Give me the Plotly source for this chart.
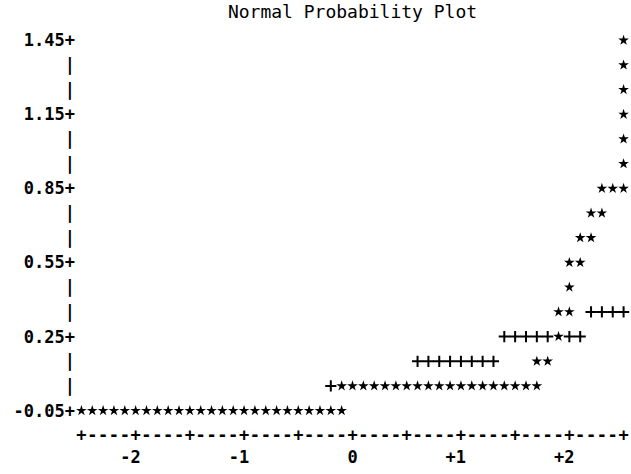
import plotly.graph_objects as go

# ---- data (normal score x, value y) ----
star_x = [-2.5, -2.4, -2.3, -2.2, -2.1, -2.0, -1.9, -1.8, -1.7, -1.6, -1.5, -1.4, -1.3,
          -1.2, -1.1, -1.0, -0.9, -0.8, -0.7, -0.6, -0.5, -0.4, -0.3, -0.2, -0.1,
          -0.1, 0.0, 0.1, 0.2, 0.3, 0.4, 0.5, 0.6, 0.7, 0.8, 0.9, 1.0, 1.1, 1.2, 1.3,
          1.4, 1.5, 1.6, 1.7,
          1.7, 1.8,
          1.9,
          1.9, 2.0,
          2.0,
          2.0, 2.1,
          2.1, 2.2,
          2.2, 2.3,
          2.3, 2.4, 2.5,
          2.5, 2.5, 2.5, 2.5, 2.5, 2.5]
star_y = [-0.05] * 25 + [0.05] * 19 + [0.15, 0.15, 0.25, 0.35, 0.35, 0.45, 0.55, 0.55,
          0.65, 0.65, 0.75, 0.75, 0.85, 0.85, 0.85, 0.95, 1.05, 1.15, 1.25, 1.35, 1.45]

ref_x = [-0.2,
         0.6, 0.7, 0.8, 0.9, 1.0, 1.1, 1.2, 1.3,
         1.4, 1.5, 1.6, 1.7, 1.8, 2.0, 2.1,
         2.2, 2.3, 2.4, 2.5]
ref_y = [0.05,
         0.15, 0.15, 0.15, 0.15, 0.15, 0.15, 0.15, 0.15,
         0.25, 0.25, 0.25, 0.25, 0.25, 0.25, 0.25,
         0.35, 0.35, 0.35, 0.35]

y_rows = [1.45, 1.35, 1.25, 1.15, 1.05, 0.95, 0.85, 0.75, 0.65, 0.55,
          0.45, 0.35, 0.25, 0.15, 0.05, -0.05]
y_labels = ["1.45", "", "", "1.15", "", "", "0.85", "", "", "0.55",
            "", "", "0.25", "", "", "-0.05"]

x_tick_vals = [-2, -1, 0, 1, 2]
x_tick_labels = ["-2", "-1", "0", "+1", "+2"]

title_text = "Normal Probability Plot"

# ---- ASCII-style axis decorations built from the tick definitions ----
ytext = [(lab + "+") if lab else "|" for lab in y_labels]

xcols = [round(-2.5 + 0.1 * i, 1) for i in range(51)]
xtext = []
for v in xcols:
    ch = "+" if abs(v * 2 - round(v * 2)) < 1e-9 else "-"
    lab = None
    for tv, tl in zip(x_tick_vals, x_tick_labels):
        if abs(v - tv) < 1e-9:
            lab = tl
    if lab is not None:
        if len(lab) > 1:
            lab = lab + "\u2007"
        xtext.append(ch + "<br>" + lab)
    else:
        xtext.append(ch)

FONT = "DejaVu Sans Mono"

fig = go.Figure()
fig.add_trace(go.Scatter(
    x=ref_x, y=ref_y, mode="markers", cliponaxis=False,
    marker=dict(symbol="cross-thin", size=8, color="black",
                line=dict(color="black", width=2)),
    hoverinfo="skip", showlegend=False))
fig.add_trace(go.Scatter(
    x=star_x, y=star_y, mode="markers", cliponaxis=False,
    marker=dict(symbol="star", size=8, color="black", line=dict(width=0)),
    hoverinfo="skip", showlegend=False))

fig.update_layout(
    width=631, height=474,
    margin=dict(l=76, r=2, t=28, b=51),
    paper_bgcolor="white", plot_bgcolor="white",
    title=dict(text=title_text, x=0.5, xref="paper", xanchor="center",
               y=1 - 12 / 474, yref="container", yanchor="middle",
               font=dict(family=FONT, size=18, color="black")),
    xaxis=dict(range=[-2.55, 2.55], showgrid=False, zeroline=False, showline=False,
               ticks="", tickmode="array", tickvals=xcols, ticktext=xtext,
               tickangle=0, ticklabeloverflow="allow",
               tickfont=dict(family=FONT, size=17, color="black", weight="bold")),
    yaxis=dict(range=[-0.1, 1.5], showgrid=False, zeroline=False, showline=False,
               ticks="", tickmode="array", tickvals=y_rows, ticktext=ytext,
               tickfont=dict(family=FONT, size=17, color="black", weight="bold")),
)

fig.write_html("out.html", config={"displayModeBar": False},
               post_script="document.body.style.margin='0px';")
